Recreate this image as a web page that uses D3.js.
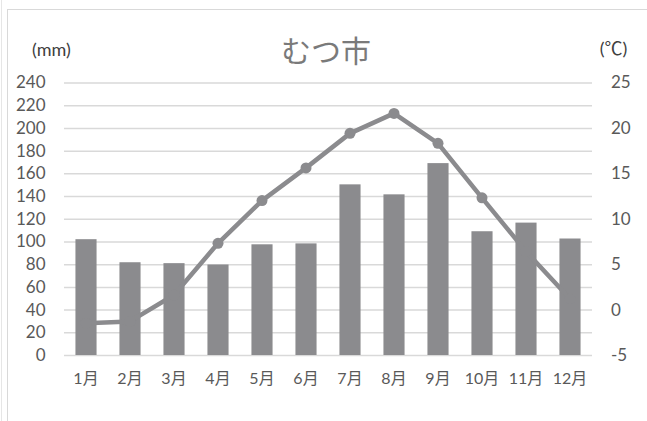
<!DOCTYPE html>
<html><head><meta charset="utf-8">
<script src="https://cdn.jsdelivr.net/npm/d3@7"></script>
<style>body{margin:0;background:#fff;}svg{display:block;}</style>
</head><body>
<svg id="c" width="647" height="421"></svg>
<script>
const months = ["1月","2月","3月","4月","5月","6月","7月","8月","9月","10月","11月","12月"];
const precipitation = [102.0, 81.7, 80.9, 79.7, 97.5, 98.3, 150.3, 141.5, 169.0, 109.0, 116.6, 102.6];
const temperature = [-1.5, -1.3, 1.6, 7.3, 12.0, 15.6, 19.4, 21.6, 18.3, 12.3, 6.4, 1.2];
const leftTicks = [0,20,40,60,80,100,120,140,160,180,200,220,240];
const rightTicks = [-5,0,5,10,15,20,25];
const title = "むつ市";
const leftUnit = "(mm)";
const rightUnit = "(℃)";

const svg = d3.select("#c");
const font = "Lato,'Noto Sans CJK JP',sans-serif";
const textCol = "#595959";
const barCol = "#8b8b8e";
const lineCol = "#8b8b8e";

// chart border
svg.append("rect").attr("x",7.5).attr("y",9.5).attr("width",660).attr("height",430)
  .attr("fill","none").attr("stroke","#d9d9d9").attr("stroke-width",1);
svg.append("line").attr("x1",1.5).attr("x2",1.5).attr("y1",0).attr("y2",421)
  .attr("stroke","#e6e6e6").attr("stroke-width",1);

const x = d3.scaleBand().domain(months).range([64, 592]).paddingInner(0.52).paddingOuter(0.26);
const yL = d3.scaleLinear().domain([0,240]).range([355, 82.5]);
const yR = d3.scaleLinear().domain([-5,25]).range([355, 82.5]);

// gridlines
const grid = d3.axisLeft(yL).tickValues(leftTicks).tickSize(-(592-64)).tickFormat("");
svg.append("g").attr("transform","translate(64,0)").call(grid)
  .call(g=>g.select(".domain").remove())
  .call(g=>g.selectAll("line").attr("stroke","#d9d9d9").attr("stroke-width",1.5));

const styleText = (g, size) => g.selectAll("text").attr("fill",textCol)
  .style("font-family",font).style("font-size",size);

// left axis labels
svg.append("g").attr("transform","translate(45.5,0)")
  .call(d3.axisLeft(yL).tickValues(leftTicks).tickSize(0).tickPadding(0))
  .call(g=>g.select(".domain").remove())
  .call(g=>styleText(g,"17px"));

// right axis labels
svg.append("g").attr("transform","translate(611,0)")
  .call(d3.axisRight(yR).tickValues(rightTicks).tickSize(0).tickPadding(0).tickFormat(d=>String(d)))
  .call(g=>g.select(".domain").remove())
  .call(g=>styleText(g,"17px"));

// bottom axis labels
svg.append("g").attr("transform","translate(0,373)")
  .call(d3.axisBottom(x).tickSize(0).tickPadding(0))
  .call(g=>g.select(".domain").remove())
  .call(g=>styleText(g,"16px"));

// bars
svg.append("g").selectAll("rect").data(precipitation).join("rect")
  .attr("x",(d,i)=>x(months[i]))
  .attr("width",x.bandwidth())
  .attr("y",d=>yL(d))
  .attr("height",d=>yL(0)-yL(d))
  .attr("fill",barCol);

// line
const line = d3.line().x((d,i)=>x(months[i])+x.bandwidth()/2).y(d=>yR(d));
svg.append("path").datum(temperature).attr("d",line)
  .attr("fill","none").attr("stroke",lineCol).attr("stroke-width",4.5).attr("stroke-linejoin","round");
svg.append("g").selectAll("circle").data(temperature).join("circle")
  .attr("cx",(d,i)=>x(months[i])+x.bandwidth()/2)
  .attr("cy",d=>yR(d))
  .attr("r",5.5)
  .attr("fill",lineCol);

// title & units
svg.append("text").attr("x",326).attr("y",62).attr("text-anchor","middle")
  .attr("fill","#7a7a7a").style("font-family",font).style("font-size","30px").text(title);
svg.append("text").attr("x",51.5).attr("y",56).attr("text-anchor","middle")
  .attr("fill","#404040").style("font-family",font).style("font-size","18px").text(leftUnit);
svg.append("text").attr("x",613.5).attr("y",55).attr("text-anchor","middle")
  .attr("fill","#404040").style("font-family",font).style("font-size","18px").text(rightUnit);
</script>
</body></html>
